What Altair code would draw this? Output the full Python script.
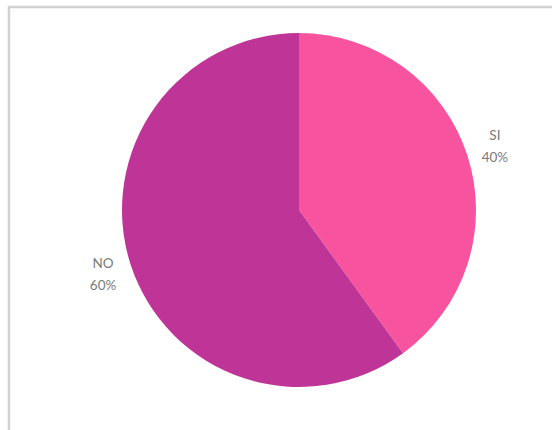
import altair as alt
import pandas as pd

categories = ["SI", "NO"]
values = [40, 60]
labels = ["SI\n40%", "NO\n60%"]
colors = ["#F7539F", "#BF3597"]

df = pd.DataFrame({"cat": categories, "val": values, "label": labels, "order": [0, 1]})

base = alt.Chart(df).encode(
    theta=alt.Theta("val:Q", stack=True),
    order=alt.Order("order:Q"),
)

pie = base.mark_arc(radius=177, stroke=None).encode(
    x=alt.value(299),
    y=alt.value(210),
    color=alt.Color("cat:N", scale=alt.Scale(domain=categories, range=colors), legend=None),
)

text = base.mark_text(
    radius=206, font="Lato", fontSize=13.5, color="#7a7a7a",
    lineBreak="\n", lineHeight=22, baseline="middle", align="center", dy=-10,
).encode(
    x=alt.value(299),
    y=alt.value(210),
    text="label:N",
)

frame = alt.Chart(pd.DataFrame({"a": [0]})).mark_rect(
    fill=None, stroke="#d2d2d2", strokeWidth=2.5
).encode(
    x=alt.value(9), y=alt.value(7), x2=alt.value(640), y2=alt.value(540)
)

chart = alt.layer(frame, pie, text).properties(
    width=552, height=430, padding=0, autosize="none", background="white"
).configure_view(stroke=None)

chart.save("out.html", embed_options={"renderer": "svg", "actions": False})
